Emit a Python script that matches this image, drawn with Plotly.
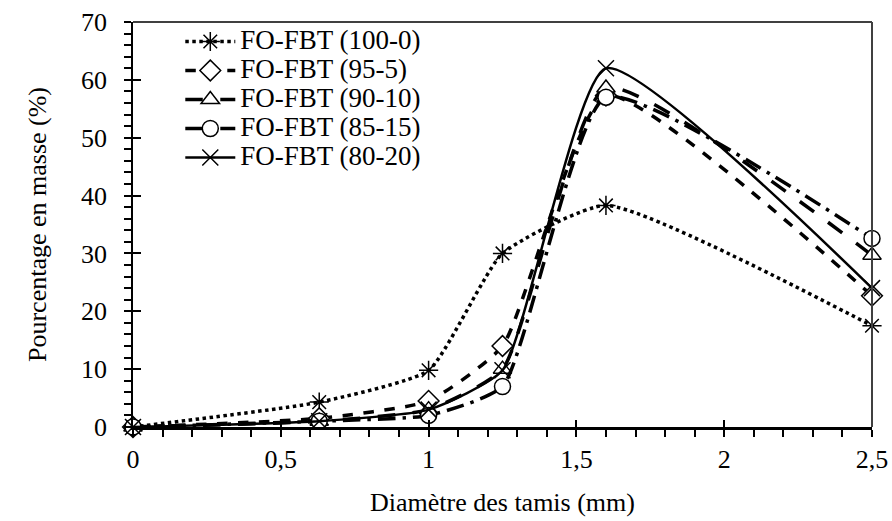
import plotly.graph_objects as go

# Data
sieve_mm = [0, 0.63, 1, 1.25, 1.6, 2.5]
series_names = ["FO-FBT (100-0)", "FO-FBT (95-5)", "FO-FBT (90-10)", "FO-FBT (85-15)", "FO-FBT (80-20)"]
s_100_0 = [0, 4.3, 9.8, 30.0, 38.3, 17.5]
s_95_5 = [0, 1.5, 4.5, 14.0, 57.3, 22.7]
s_90_10 = [0, 1.0, 3.0, 10.0, 58.6, 29.7]
s_85_15 = [0, 1.0, 2.0, 7.0, 57.0, 32.6]
s_80_20 = [0, 1.0, 3.0, 9.8, 62.0, 24.0]

x_tickvals = [0, 0.5, 1, 1.5, 2, 2.5]
x_ticktext = ["0", "0,5", "1", "1,5", "2", "2,5"]
y_tickvals = [0, 10, 20, 30, 40, 50, 60, 70]

FONT = "Liberation Serif"
LEGEND_TEXT_PX = 27

styles = [
    dict(dash="dot", width=3.5, symbol="asterisk-open", fill="black"),
    dict(dash="dash", width=3.5, symbol="diamond", fill="white"),
    dict(dash="longdash", width=3.5, symbol="triangle-up", fill="white"),
    dict(dash="longdashdot", width=3.5, symbol="circle", fill="white"),
    dict(dash="solid", width=2.5, symbol="x-thin-open", fill="black"),
]
values = [s_100_0, s_95_5, s_90_10, s_85_15, s_80_20]

fig = go.Figure()
for name, vals, st in zip(series_names, values, styles):
    fig.add_trace(go.Scatter(
        x=sieve_mm, y=vals,
        name=f'<span style="font-size:{LEGEND_TEXT_PX}px">{name}</span>',
        mode="lines+markers",
        line=dict(color="black", width=st["width"], dash=st["dash"], shape="spline", smoothing=0.5),
        marker=dict(symbol=st["symbol"], size=16, color=st["fill"],
                    line=dict(color="black", width=1.5)),
        cliponaxis=False,
    ))

# invisible trace for the crossing (inside) part of major ticks
fig.add_trace(go.Scatter(x=[0], y=[0], yaxis="y2", xaxis="x2", showlegend=False,
                         mode="markers", marker=dict(opacity=0), hoverinfo="skip"))

fig.update_layout(
    width=892, height=521,
    margin=dict(l=133, r=20, t=22, b=94),
    paper_bgcolor="white", plot_bgcolor="white",
    font=dict(family=FONT, size=26, color="black"),
    showlegend=True,
    legend=dict(x=0.064, y=1.0, xanchor="left", yanchor="top",
                bgcolor="rgba(0,0,0,0)", itemwidth=50,
                font=dict(family=FONT, size=20, color="black"),
                tracegroupgap=0),
    xaxis=dict(range=[0, 2.5], tickvals=x_tickvals, ticktext=x_ticktext,
               showgrid=False, zeroline=False, automargin=False,
               showline=True, linecolor="black", linewidth=2.5,
               ticks="outside", ticklen=7, tickwidth=1.5, tickcolor="black",
               minor=dict(dtick=0.1, ticks="outside", ticklen=7, tickwidth=1.5, tickcolor="black"),
               tickfont=dict(family=FONT, size=26),
               title=dict(text="Diamètre des tamis (mm)", font=dict(family=FONT, size=26), standoff=20)),
    yaxis=dict(range=[0, 70], tickvals=y_tickvals,
               showgrid=False, zeroline=False, automargin=False,
               showline=True, linecolor="black", linewidth=1.5,
               ticks="outside", ticklen=7, tickwidth=1.5, tickcolor="black",
               minor=dict(dtick=2, ticks="outside", ticklen=7, tickwidth=1.5, tickcolor="black"),
               tickfont=dict(family=FONT, size=26), ticklabelstandoff=12,
               title=dict(text="Pourcentage en masse (%)", font=dict(family=FONT, size=26), standoff=27)),
    xaxis2=dict(range=[0, 2.5], overlaying="x", tickvals=x_tickvals, showticklabels=False,
                ticks="inside", ticklen=7, tickwidth=1.5, tickcolor="black", automargin=False,
                showgrid=False, zeroline=False, showline=False, anchor="y2"),
    yaxis2=dict(range=[0, 70], overlaying="y", tickvals=y_tickvals, showticklabels=False,
                ticks="inside", ticklen=8, tickwidth=1.5, tickcolor="black", automargin=False,
                showgrid=False, zeroline=False, showline=False, anchor="x2", side="left"),
    shapes=[
        dict(type="line", xref="paper", yref="paper", x0=0, x1=1, y0=1, y1=1,
             line=dict(color="#404040", width=2)),
        dict(type="line", xref="paper", yref="paper", x0=1, x1=1, y0=0, y1=1,
             line=dict(color="#404040", width=2)),
    ],
)

fig.write_html("out.html")
